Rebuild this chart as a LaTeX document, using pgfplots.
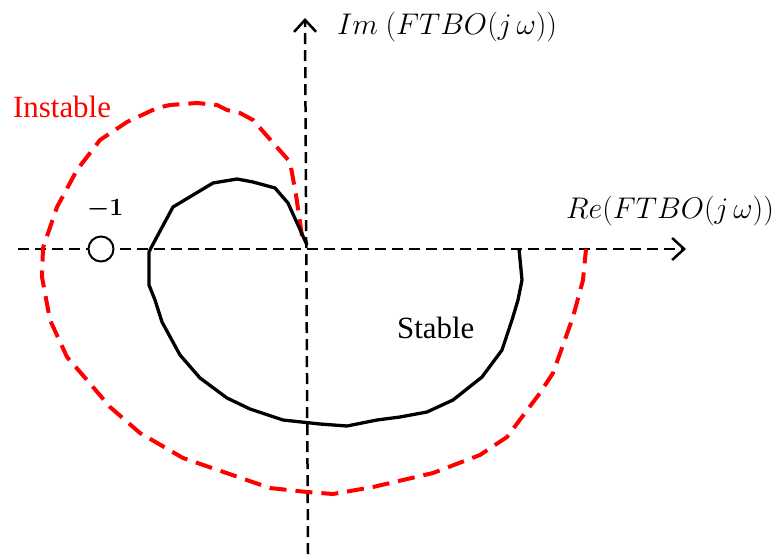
\RequirePackage{fix-cm}
\documentclass[border=0pt]{standalone}
\usepackage{fontspec}
\setmainfont{Liberation Serif}
\usepackage{pgfplots}
\pgfplotsset{compat=1.18}
\usetikzlibrary{arrows.meta}
\definecolor{nyqred}{RGB}{255,0,0}

\begin{document}
\begin{tikzpicture}
\begin{axis}[
  scale only axis, width=781bp, height=554bp,
  xmin=0, xmax=781, ymin=0, ymax=554, y dir=reverse,
  hide axis, clip=false,
]
% real and imaginary axes
\addplot[black, line width=2.5bp, dash pattern=on 11bp off 6bp,
  -{Straight Barb[length=12bp, width=22bp]}]
  coordinates {(18,249) (686,249)};
\addplot[black, line width=2.5bp, dash pattern=on 11bp off 6bp,
  -{Straight Barb[length=12bp, width=22bp]}]
  coordinates {(308,554) (305,18)};

% unstable locus (encircles -1)
\addplot[nyqred, line width=4bp, dash pattern=on 17bp off 9bp]
  coordinates {
  (302,236) (296,195) (290,162) (253,120) (240,113) (227,110) (217,105)
  (197,103) (170,105) (157,108) (127,122) (100,140) (77,170) (57,207)
  (43,248) (42,277) (50,320) (67,357) (87,380) (110,407) (140,433)
  (183,458) (270,488) (307,492) (333,494) (373,487) (433,473) (480,455)
  (507,437) (540,393) (553,373) (573,317) (583,280) (586,249)
  };

% stable locus
\addplot[black, line width=3.3bp, line join=round]
  coordinates {
  (519,249) (522,280) (518,300) (512,320) (502,350) (482,377) (453,400)
  (427,412) (400,417) (377,420) (347,426) (320,424) (283,420) (250,409)
  (227,398) (200,378) (180,355) (162,322) (155,300) (149,285) (149,252)
  (152,246) (173,207) (193,195) (213,183) (237,179) (253,182) (275,188)
  (288,203) (307,245)
  };

% critical point -1
\addplot[black, line width=2bp, only marks, mark=*,
  mark options={fill=white}, mark size=12.5bp]
  coordinates {(101,249)};

\node[anchor=base west, inner sep=0pt] at (axis cs:337,35)
  {\fontsize{30}{36}\selectfont $Im\ (FTBO(j\,\omega))$};
\node[anchor=base west, inner sep=0pt] at (axis cs:566,218)
  {\fontsize{30}{36}\selectfont $Re(FTBO(j\,\omega))$};
\node[anchor=base west, inner sep=0pt] at (axis cs:87,215)
  {{\fontsize{25}{30}\selectfont\boldmath $-1$}};
\node[anchor=base west, inner sep=0pt, text=nyqred] at (axis cs:13,117)
  {\fontsize{31}{36}\selectfont Instable};
\node[anchor=base west, inner sep=0pt] at (axis cs:397,338)
  {\fontsize{31}{36}\selectfont Stable};
\end{axis}
% keep the whole drawing area in the picture
\path (current axis.south west) rectangle (current axis.north east);
\end{tikzpicture}
\end{document}
